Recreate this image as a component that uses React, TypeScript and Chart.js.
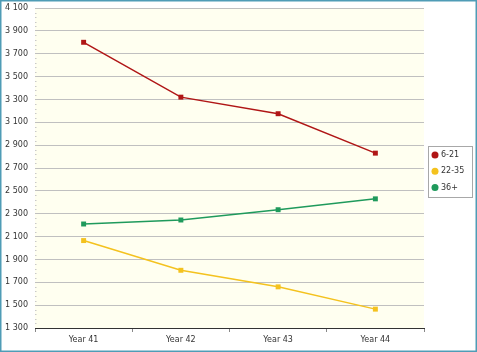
import React, { useEffect, useRef } from "react";
import { Chart, registerables } from "chart.js";

Chart.register(...registerables);

const categories = ["Year 41", "Year 42", "Year 43", "Year 44"];
const seriesLabels = ["6-21", "22-35", "36+"];
const series6to21 = [3800, 3320, 3175, 2830];
const series22to35 = [2065, 1805, 1660, 1465];
const series36plus = [2210, 2245, 2335, 2430];
const seriesColors = ["#b01616", "#f4c21e", "#1f9a5c"];
const yMin = 1300;
const yMax = 4100;
const yStep = 200;
const yMinorStep = 40;

const FONT = "'DejaVu Sans', Verdana, sans-serif";

function fmt(v: number): string {
  return String(Math.round(v)).replace(/\B(?=(\d{3})+(?!\d))/g, " ");
}

const decorPlugin = {
  id: "decor",
  beforeDraw(chart: any) {
    const { ctx, chartArea, width, height } = chart;
    ctx.save();
    ctx.fillStyle = "#ffffff";
    ctx.fillRect(0, 0, width, height);
    ctx.fillStyle = "#fffff0";
    ctx.fillRect(chartArea.left, chartArea.top, chartArea.right - chartArea.left, chartArea.bottom - chartArea.top);
    ctx.restore();
  },
  afterDraw(chart: any) {
    const { ctx, chartArea, width, height } = chart;
    const y = chart.scales.y;
    ctx.save();
    ctx.fillStyle = "#c8c8c8";
    for (let v = yMin; v <= yMax; v += yMinorStep) {
      if ((v - yMin) % yStep === 0) continue;
      const py = Math.round(y.getPixelForValue(v));
      ctx.fillRect(chartArea.left, py, 1.5, 1);
    }
    const bx = 428, by = 146, bw = 44, bh = 51;
    ctx.fillStyle = "#ffffff";
    ctx.fillRect(bx, by, bw, bh);
    ctx.strokeStyle = "#a8a8a8";
    ctx.lineWidth = 1;
    ctx.strokeRect(bx + 0.5, by + 0.5, bw, bh);
    ctx.font = "8px " + FONT;
    ctx.textBaseline = "middle";
    ctx.textAlign = "left";
    chart.data.datasets.forEach((ds: any, i: number) => {
      const cy = by + 9 + i * 16.3;
      ctx.beginPath();
      ctx.fillStyle = ds.borderColor;
      ctx.arc(bx + 7, cy, 3.5, 0, Math.PI * 2);
      ctx.fill();
      ctx.fillStyle = "#333333";
      ctx.fillText(ds.label, bx + 13, cy);
    });
    ctx.strokeStyle = "#4f9cb6";
    ctx.lineWidth = 1.5;
    ctx.strokeRect(0.75, 0.75, width - 1.5, height - 1.5);
    ctx.restore();
  },
};

export default function App() {
  const ref = useRef<HTMLCanvasElement | null>(null);
  useEffect(() => {
    if (!ref.current) return;
    const mk = (label: string, data: number[], color: string) => ({
      label,
      data,
      borderColor: color,
      backgroundColor: color,
      borderWidth: 1.5,
      pointStyle: "rect" as const,
      pointRadius: 3.5,
      pointBorderWidth: 0,
      tension: 0,
      fill: false,
    });
    const chart = new Chart(ref.current, {
      type: "line",
      data: {
        labels: categories,
        datasets: [
          mk(seriesLabels[0], series6to21, seriesColors[0]),
          mk(seriesLabels[1], series22to35, seriesColors[1]),
          mk(seriesLabels[2], series36plus, seriesColors[2]),
        ],
      },
      options: {
        responsive: false,
        animation: false,
        layout: { padding: { top: 8, right: 53, bottom: 0, left: 0 } },
        plugins: { legend: { display: false }, tooltip: { enabled: false } },
        scales: {
          x: {
            offset: true,
            grid: {
              offset: true,
              drawOnChartArea: false,
              drawTicks: true,
              tickLength: 4,
              color: "#888888",
            },
            border: { display: true, color: "#333333", width: 1 },
            ticks: { color: "#333333", font: { family: FONT, size: 8 }, padding: 3, maxRotation: 0 },
            afterFit(scale: any) {
              scale.height = 24;
              scale.paddingLeft = 0;
              scale.paddingRight = 0;
            },
          },
          y: {
            min: yMin,
            max: yMax,
            grid: { color: "#c0c0c0", drawTicks: false, lineWidth: 1 },
            border: { display: false },
            ticks: {
              stepSize: yStep,
              color: "#333333",
              font: { family: FONT, size: 8 },
              padding: 7,
              callback: (v: any) => fmt(Number(v)),
            },
            afterFit(scale: any) {
              scale.width = 35;
              scale.paddingTop = 0;
              scale.paddingBottom = 0;
            },
          },
        },
      },
      plugins: [decorPlugin],
    });
    return () => chart.destroy();
  }, []);
  return (
    <div style={{ position: "absolute", left: 0, top: 0, width: 477, height: 352 }}>
      <canvas ref={ref} width={477} height={352} style={{ display: "block", width: 477, height: 352 }} />
    </div>
  );
}
